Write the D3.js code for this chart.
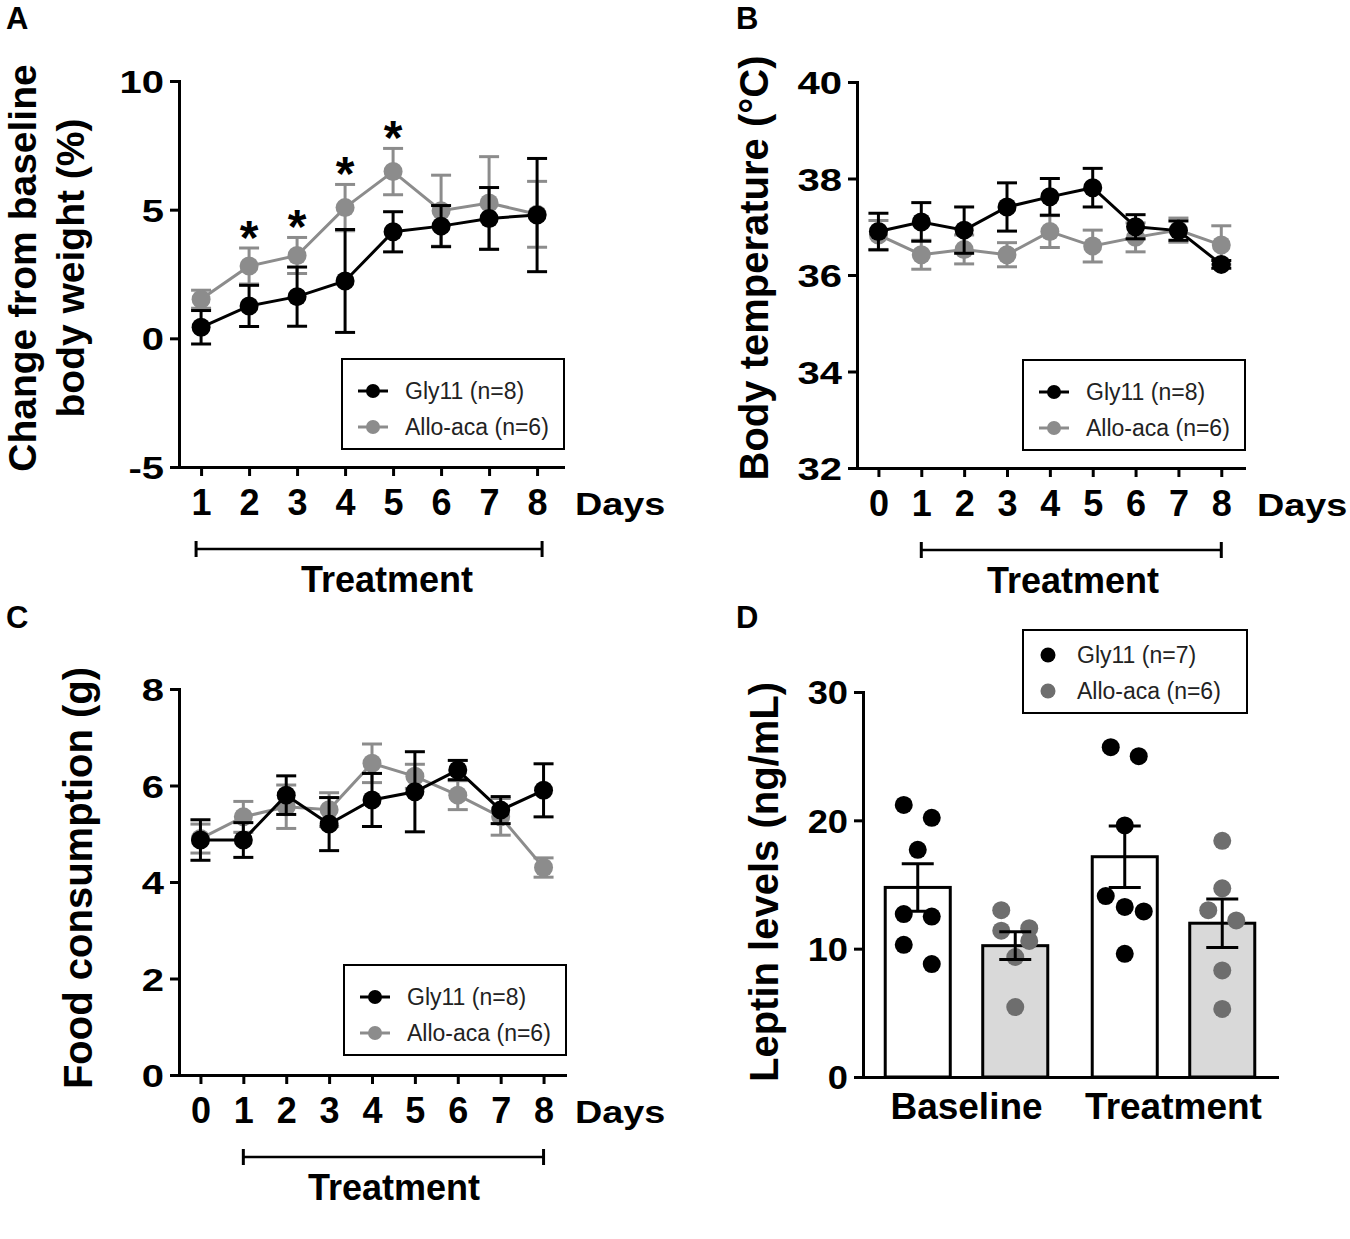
<!DOCTYPE html>
<html>
<head>
<meta charset="utf-8">
<script src="https://cdn.jsdelivr.net/npm/d3@7"></script>
<style>
    body { margin: 0; background: #fff; }
    text { font-family: "Liberation Sans", Arial, Helvetica, sans-serif; }
</style>
</head>
<body>
<script>
// ---- data ----

// A: change from baseline body weight (%), mean and SEM
const daysA = [1, 2, 3, 4, 5, 6, 7, 8];
const weightGly = [0.43, 1.26, 1.62, 2.23, 4.14, 4.36, 4.66, 4.79];
const weightGlyErr = [0.65, 0.8, 1.15, 2.0, 0.78, 0.8, 1.2, 2.2];
const weightAllo = [1.52, 2.81, 3.22, 5.08, 6.48, 4.96, 5.26, 4.82];
const weightAlloErr = [0.35, 0.7, 0.7, 0.9, 0.9, 1.38, 1.8, 1.28];
const weightSignificant = [2, 3, 4, 5];

// B: body temperature (°C)
const daysB = [0, 1, 2, 3, 4, 5, 6, 7, 8];
const tempGly = [36.9, 37.1, 36.93, 37.41, 37.62, 37.81, 37.0, 36.92, 36.22];
const tempGlyErr = [0.38, 0.4, 0.48, 0.5, 0.38, 0.4, 0.25, 0.2, 0.08];
const tempAllo = [36.83, 36.42, 36.53, 36.42, 36.9, 36.6, 36.78, 36.93, 36.62];
const tempAlloErr = [0.3, 0.3, 0.3, 0.25, 0.33, 0.33, 0.3, 0.25, 0.4];

// C: food consumption (g)
const daysC = [0, 1, 2, 3, 4, 5, 6, 7, 8];
const foodGly = [4.87, 4.87, 5.8, 5.2, 5.7, 5.87, 6.32, 5.49, 5.9];
const foodGlyErr = [0.42, 0.36, 0.4, 0.55, 0.55, 0.83, 0.2, 0.28, 0.55];
const foodAllo = [4.9, 5.35, 5.56, 5.5, 6.46, 6.19, 5.8, 5.35, 4.3];
const foodAlloErr = [0.3, 0.32, 0.45, 0.35, 0.4, 0.25, 0.3, 0.38, 0.2];

// D: leptin levels (ng/mL), individual animals per group
const leptinGroups = ["Baseline", "Treatment"];
const leptinGly = [
    [21.2, 20.2, 17.7, 12.7, 12.5, 10.3, 8.8],
    [25.7, 25.0, 19.6, 14.1, 13.25, 12.9, 9.6]
];
const leptinAllo = [
    [13.0, 11.6, 11.4, 10.6, 9.35, 5.45],
    [18.4, 14.7, 13.0, 12.2, 8.3, 5.3]
];

const labelGly8 = "Gly11 (n=8)", labelAllo6 = "Allo-aca (n=6)", labelGly7 = "Gly11 (n=7)";

// ---- drawing ----
const black = "#000", gray = "#8c8c8c", darkGray = "#6e6e6e";

const svg = d3.select("body")
    .append("svg")
    .attr("width", 1350)
    .attr("height", 1239)
    .style("display", "block");

function styleAxis(ax) {
    ax.attr("font-family", null).attr("font-size", null);
    ax.selectAll("path, line").attr("stroke", "#000").attr("stroke-width", 3);
    ax.select(".domain").attr("stroke-linecap", "square");
}

// y tick labels in the figure are drawn wide, so stretch them a bit
function styleYTicks(ax, size, stretch) {
    ax.selectAll("text")
        .attr("x", 0)
        .attr("dy", "0.36em")
        .attr("transform", `translate(-15,0) scale(${stretch},1)`)
        .attr("fill", "#000")
        .style("font-size", size + "px")
        .style("font-weight", "bold");
}

function boldText(g, txt, x, y, size, anchor) {
    return g.append("text")
        .attr("x", x).attr("y", y)
        .attr("text-anchor", anchor || "start")
        .style("font-size", size + "px")
        .style("font-weight", "bold")
        .text(txt);
}

function yLabel(g, lines, x, y, size) {
    lines.forEach((line, i) => {
        g.append("text")
            .attr("transform", `translate(${x[i]},${y}) rotate(-90)`)
            .attr("text-anchor", "middle")
            .style("font-size", size + "px")
            .style("font-weight", "bold")
            .text(line);
    });
}

function lineLegend(g, left, top, items) {
    g.append("rect")
        .attr("x", left).attr("y", top)
        .attr("width", 222).attr("height", 90)
        .attr("fill", "#fff").attr("stroke", "#000").attr("stroke-width", 2);
    items.forEach((it, i) => {
        const cy = top + 32 + i * 36;
        g.append("line")
            .attr("x1", left + 16).attr("x2", left + 46)
            .attr("y1", cy).attr("y2", cy)
            .attr("stroke", it.color).attr("stroke-width", 3);
        g.append("circle").attr("cx", left + 31).attr("cy", cy).attr("r", 7).attr("fill", it.color);
        g.append("text")
            .attr("x", left + 63).attr("y", cy).attr("dy", "0.36em")
            .attr("fill", "#222")
            .style("font-size", "23px")
            .text(it.label);
    });
}

const plain = d => String(d);   // keep "-5" with a hyphen like the figure

function drawLinePanel(p) {
    const g = svg.append("g");
    const x = d3.scaleLinear().domain(p.xDomain).range(p.xRange);
    const y = d3.scaleLinear().domain(p.yDomain).range(p.yRange);

    const yAxis = g.append("g")
        .attr("transform", `translate(${p.xRange[0]},0)`)
        .call(d3.axisLeft(y).tickValues(p.yTicks).tickFormat(plain).tickSize(9).tickSizeOuter(0));
    styleAxis(yAxis);
    styleYTicks(yAxis, 32, 1.25);

    const xAxis = g.append("g")
        .attr("transform", `translate(0,${p.yRange[0]})`)
        .call(d3.axisBottom(x).tickValues(p.days).tickFormat(plain).tickSize(9).tickSizeOuter(0));
    styleAxis(xAxis);
    xAxis.selectAll("text")
        .attr("y", 48).attr("dy", 0)
        .attr("fill", "#000")
        .style("font-size", "36px")
        .style("font-weight", "bold");

    // "Days" after the last tick
    boldText(g, "Days", 0, 0, 31)
        .attr("x", null).attr("y", null)
        .attr("transform", `translate(${p.daysX},${p.yRange[0] + 48}) scale(1.22,1)`);

    // gray series first, black on top
    p.series.forEach(s => {
        const pts = p.days.map((d, i) => ({day: d, v: s.values[i], e: s.errors[i]}));
        const eg = g.append("g").attr("stroke", s.color).attr("stroke-width", 3);
        eg.selectAll(".stem").data(pts).join("line")
            .attr("class", "stem")
            .attr("x1", d => x(d.day)).attr("x2", d => x(d.day))
            .attr("y1", d => y(d.v - d.e)).attr("y2", d => y(d.v + d.e));
        [1, -1].forEach(sign => {
            eg.selectAll(".cap" + sign).data(pts).join("line")
                .attr("class", "cap" + sign)
                .attr("x1", d => x(d.day) - 10).attr("x2", d => x(d.day) + 10)
                .attr("y1", d => y(d.v + sign * d.e)).attr("y2", d => y(d.v + sign * d.e));
        });
        g.append("path")
            .datum(pts)
            .attr("fill", "none")
            .attr("stroke", s.color)
            .attr("stroke-width", 3)
            .attr("d", d3.line().x(d => x(d.day)).y(d => y(d.v)));
        g.append("g").selectAll("circle").data(pts).join("circle")
            .attr("cx", d => x(d.day)).attr("cy", d => y(d.v))
            .attr("r", 9.5)
            .attr("fill", s.color);
    });

    // significance stars above the highest error bar
    if (p.stars) {
        p.stars.forEach(day => {
            const i = p.days.indexOf(day);
            const top = d3.max(p.series, s => s.values[i] + s.errors[i]);
            boldText(g, "*", x(day), y(top) + 6, 48, "middle");
        });
    }

    lineLegend(g, p.legend[0], p.legend[1], p.series.slice().reverse());

    // treatment bracket
    const by = p.yRange[0] + 82;
    const bx0 = x(p.treatment[0]) - p.bracketPad, bx1 = x(p.treatment[1]) + p.bracketPad;
    const bg = g.append("g").attr("stroke", "#000").attr("stroke-width", 3);
    bg.append("line").attr("x1", bx0).attr("x2", bx1).attr("y1", by).attr("y2", by).attr("stroke-width", 2.5);
    [bx0, bx1].forEach(bx => bg.append("line").attr("x1", bx).attr("x2", bx).attr("y1", by - 8).attr("y2", by + 8));
    boldText(g, "Treatment", p.treatmentX, p.yRange[0] + 125, 36, "middle");

    return g;
}

// A
const gA = drawLinePanel({
    days: daysA,
    xDomain: [0.54, 8.54], xRange: [179, 563],
    yDomain: [-5, 10], yRange: [467, 81],
    yTicks: [-5, 0, 5, 10],
    series: [
        {label: labelAllo6, color: gray, values: weightAllo, errors: weightAlloErr},
        {label: labelGly8, color: black, values: weightGly, errors: weightGlyErr}
    ],
    stars: weightSignificant,
    legend: [342, 359],
    treatment: [1, 8], bracketPad: 5, treatmentX: 387,
    daysX: 575
});
yLabel(gA, ["Change from baseline", "body weight (%)"], [36, 84], 268, 39);
boldText(gA, "A", 6, 29, 31);

// B
const gB = drawLinePanel({
    days: daysB,
    xDomain: [-0.5, 8.53], xRange: [857, 1244],
    yDomain: [32, 40], yRange: [468, 82],
    yTicks: [32, 34, 36, 38, 40],
    series: [
        {label: labelAllo6, color: gray, values: tempAllo, errors: tempAlloErr},
        {label: labelGly8, color: black, values: tempGly, errors: tempGlyErr}
    ],
    legend: [1023, 360],
    treatment: [1, 8], bracketPad: 0, treatmentX: 1073,
    daysX: 1257
});
yLabel(gB, ["Body temperature (°C)"], [768], 268, 40);
boldText(gB, "B", 736, 29, 31);

// C
const gC = drawLinePanel({
    days: daysC,
    xDomain: [-0.5, 8.5], xRange: [179, 565],
    yDomain: [0, 8], yRange: [1075, 689],
    yTicks: [0, 2, 4, 6, 8],
    series: [
        {label: labelAllo6, color: gray, values: foodAllo, errors: foodAlloErr},
        {label: labelGly8, color: black, values: foodGly, errors: foodGlyErr}
    ],
    legend: [344, 965],
    treatment: [1, 8], bracketPad: 0, treatmentX: 394,
    daysX: 575
});
yLabel(gC, ["Food consumption (g)"], [92], 878, 40);
boldText(gC, "C", 6, 628, 31);

// D: bars with individual points
function dodge(values, y, spacingMax) {
    // group values that sit too close vertically and spread them sideways
    const order = values.map((v, i) => i).sort((a, b) => values[b] - values[a]);
    const offsets = new Array(values.length).fill(0);
    let i = 0;
    while (i < order.length) {
        let j = i + 1;
        while (j < order.length && Math.abs(y(values[order[i]]) - y(values[order[j]])) < 20) j++;
        const n = j - i;
        const step = n > 1 ? Math.min(spacingMax, 38 / (n - 1)) : 0;
        for (let k = i; k < j; k++) offsets[order[k]] = (k - i - (n - 1) / 2) * step;
        i = j;
    }
    return offsets;
}

(function drawLeptin() {
    const g = svg.append("g");
    const series = [
        {label: labelGly7, values: leptinGly, fill: "#fff", dot: black},
        {label: labelAllo6, values: leptinAllo, fill: "#d9d9d9", dot: darkGray}
    ];
    const x0 = d3.scaleBand().domain(leptinGroups).range([863, 1277]);
    const x1 = d3.scaleBand().domain(d3.range(series.length))
        .range([0, x0.bandwidth()])
        .paddingInner(0.333)
        .paddingOuter(0.228);
    const y = d3.scaleLinear().domain([0, 30]).range([1077, 692]);

    const cells = [];
    leptinGroups.forEach((grp, gi) => {
        series.forEach((s, si) => {
            const vals = s.values[gi];
            cells.push({
                grp, si, s, vals,
                mean: d3.mean(vals),
                sem: d3.deviation(vals) / Math.sqrt(vals.length),
                cx: x0(grp) + x1(si) + x1.bandwidth() / 2
            });
        });
    });

    g.selectAll(".bar").data(cells).join("rect")
        .attr("class", "bar")
        .attr("x", d => x0(d.grp) + x1(d.si))
        .attr("width", x1.bandwidth())
        .attr("y", d => y(d.mean))
        .attr("height", d => y(0) - y(d.mean))
        .attr("fill", d => d.s.fill)
        .attr("stroke", "#000")
        .attr("stroke-width", 3);

    cells.forEach(c => {
        const off = dodge(c.vals, y, 28);
        g.append("g").selectAll("circle").data(c.vals).join("circle")
            .attr("cx", (v, i) => c.cx + off[i])
            .attr("cy", v => y(v))
            .attr("r", 9)
            .attr("fill", c.s.dot);
    });

    const eg = g.append("g").attr("stroke", "#000").attr("stroke-width", 3);
    eg.selectAll(".stem").data(cells).join("line")
        .attr("class", "stem")
        .attr("x1", d => d.cx).attr("x2", d => d.cx)
        .attr("y1", d => y(d.mean - d.sem)).attr("y2", d => y(d.mean + d.sem));
    [1, -1].forEach(sign => {
        eg.selectAll(".cap" + sign).data(cells).join("line")
            .attr("class", "cap" + sign)
            .attr("x1", d => d.cx - 16).attr("x2", d => d.cx + 16)
            .attr("y1", d => y(d.mean + sign * d.sem)).attr("y2", d => y(d.mean + sign * d.sem));
    });

    const yAxis = g.append("g")
        .attr("transform", "translate(863,0)")
        .call(d3.axisLeft(y).tickValues([0, 10, 20, 30]).tickFormat(plain).tickSize(9).tickSizeOuter(0));
    styleAxis(yAxis);
    styleYTicks(yAxis, 33, 1.1);

    const xAxis = g.append("g")
        .attr("transform", `translate(0,${y(0)})`)
        .call(d3.axisBottom(x0).tickSize(0).tickSizeOuter(0));
    styleAxis(xAxis);
    xAxis.selectAll("text")
        .attr("y", 42).attr("dy", 0)
        .attr("fill", "#000")
        .style("font-size", "37px")
        .style("font-weight", "bold");

    // legend
    g.append("rect")
        .attr("x", 1023).attr("y", 630)
        .attr("width", 224).attr("height", 83)
        .attr("fill", "#fff").attr("stroke", "#000").attr("stroke-width", 2);
    series.forEach((s, i) => {
        const cy = 655 + i * 36;
        g.append("circle").attr("cx", 1048).attr("cy", cy).attr("r", 7.5).attr("fill", s.dot);
        g.append("text")
            .attr("x", 1077).attr("y", cy).attr("dy", "0.36em")
            .attr("fill", "#222")
            .style("font-size", "23px")
            .text(s.label);
    });

    yLabel(g, ["Leptin levels (ng/mL)"], [778], 882, 40);
    boldText(g, "D", 736, 628, 31);
})();
</script>
</body>
</html>
